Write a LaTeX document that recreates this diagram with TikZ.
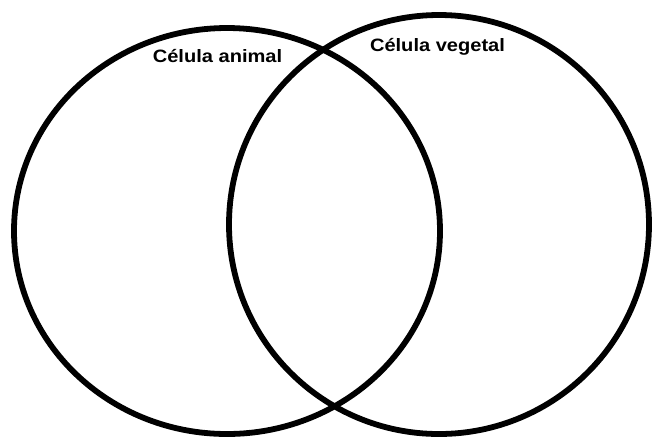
\documentclass[tikz,border=0pt]{standalone}
\usepackage{fontspec}
\setmainfont{Liberation Sans}
\usepackage{tikz}
\tikzset{
  vennline/.style={draw=black,line width=3.3pt},
  setlabel/.style={anchor=base,inner sep=0pt,font=\fontsize{10.2}{12}\selectfont\bfseries}
}
\newcommand{\widetext}[1]{\scalebox{1.12}[1]{#1}}

\begin{document}
\begin{tikzpicture}[x=0.02cm,y=-0.02cm]
  \useasboundingbox (0,0) rectangle (653,441);
  \draw[vennline] (227,231) ellipse [x radius=213,y radius=203];
  \draw[vennline] (439,224.5) ellipse [x radius=210,y radius=209.5];
  \node[setlabel] (animal) at (217.5,62) {\widetext{Célula animal}};
  \node[setlabel] (vegetal) at (437.5,51) {\widetext{Célula vegetal}};
\end{tikzpicture}
\end{document}
